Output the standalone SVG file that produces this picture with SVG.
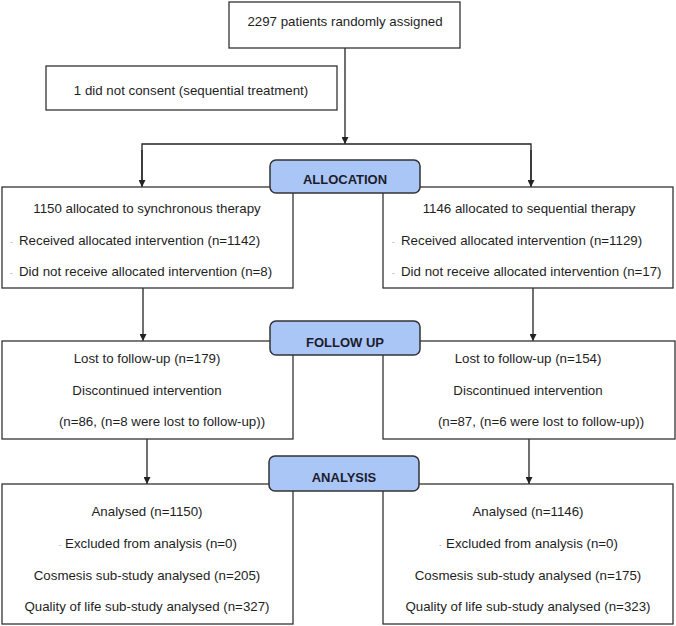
<svg xmlns="http://www.w3.org/2000/svg" width="676" height="626" viewBox="0 0 676 626">
<defs>
<style>
.box{fill:#fff;stroke:#333;stroke-width:1.3}
.phase{fill:#a9c6f7;stroke:#333;stroke-width:1.5}
.t{font-family:"Liberation Sans",Arial,sans-serif;font-size:13.3px;fill:#1e1e1e}
.c{text-anchor:middle}
.p{font-family:"Liberation Sans",Arial,sans-serif;font-size:13px;font-weight:bold;fill:#1c1c2c;text-anchor:middle}
.d{font-family:"Liberation Sans",Arial,sans-serif;font-size:8px;fill:#999}
.ln{fill:none;stroke:#222;stroke-width:1.3}
</style>
<marker id="ah" viewBox="0 0 10 10" refX="10" refY="5" markerWidth="7" markerHeight="7" orient="auto" markerUnits="userSpaceOnUse">
<path d="M0,0 L10,5 L0,10 z" fill="#222"/>
</marker>
</defs>
<rect width="676" height="626" fill="#fff"/>

<g id="connectors">
<path class="ln" d="M345,48 V144" marker-end="url(#ah)"/>
<path class="ln" d="M142,186 V144 H531 V186" />
<path class="ln" d="M142,150 V187" marker-end="url(#ah)"/>
<path class="ln" d="M531,150 V187" marker-end="url(#ah)"/>
<path class="ln" d="M143,288 V341" marker-end="url(#ah)"/>
<path class="ln" d="M533,288 V341" marker-end="url(#ah)"/>
<path class="ln" d="M147,439 V484" marker-end="url(#ah)"/>
<path class="ln" d="M529,439 V484" marker-end="url(#ah)"/>
</g>

<g id="randomised">
<rect class="box" x="229" y="2" width="231" height="46"/>
<text class="t c" x="345" y="26">2297 patients randomly assigned</text>
</g>

<g id="excluded">
<rect class="box" x="46" y="66" width="291" height="44"/>
<text class="t c" x="191" y="95">1 did not consent (sequential treatment)</text>
</g>

<g id="alloc-left">
<rect class="box" x="2" y="187" width="291" height="101"/>
<text class="t c" x="147" y="213">1150 allocated to synchronous therapy</text>
<text class="d" x="10" y="244">-</text>
<text class="t" x="19" y="245">Received allocated intervention (n=1142)</text>
<text class="d" x="10" y="275">-</text>
<text class="t" x="19" y="276">Did not receive allocated intervention (n=8)</text>
</g>

<g id="alloc-right">
<rect class="box" x="383" y="187" width="290" height="101"/>
<text class="t c" x="529" y="213">1146 allocated to sequential therapy</text>
<text class="d" x="392" y="244">-</text>
<text class="t" x="401" y="245">Received allocated intervention (n=1129)</text>
<text class="d" x="392" y="275">-</text>
<text class="t" x="401" y="276">Did not receive allocated intervention (n=17)</text>
</g>

<g id="follow-left">
<rect class="box" x="2" y="341" width="291" height="98"/>
<text class="t c" x="147" y="363">Lost to follow-up (n=179)</text>
<text class="t c" x="147" y="395">Discontinued intervention</text>
<text class="t c" x="162" y="426">(n=86, (n=8 were lost to follow-up))</text>
</g>

<g id="follow-right">
<rect class="box" x="383" y="341" width="292" height="98"/>
<text class="t c" x="528" y="363">Lost to follow-up (n=154)</text>
<text class="t c" x="528" y="395">Discontinued intervention</text>
<text class="t c" x="541" y="426">(n=87, (n=6 were lost to follow-up))</text>
</g>

<g id="analysis-left">
<rect class="box" x="2" y="484" width="291" height="140"/>
<text class="t c" x="147" y="516">Analysed (n=1150)</text>
<text class="d" x="59" y="547">-</text>
<text class="t c" x="151" y="548">Excluded from analysis (n=0)</text>
<text class="t c" x="147" y="580">Cosmesis sub-study analysed (n=205)</text>
<text class="t c" x="147" y="611">Quality of life sub-study analysed (n=327)</text>
</g>

<g id="analysis-right">
<rect class="box" x="383" y="484" width="290" height="140"/>
<text class="t c" x="528" y="516">Analysed (n=1146)</text>
<text class="d" x="439" y="547">-</text>
<text class="t c" x="532" y="548">Excluded from analysis (n=0)</text>
<text class="t c" x="528" y="580">Cosmesis sub-study analysed (n=175)</text>
<text class="t c" x="528" y="611">Quality of life sub-study analysed (n=323)</text>
</g>

<g id="phase-allocation">
<rect class="phase" x="270" y="160" width="150" height="33" rx="6"/>
<text class="p" x="345" y="183.5">ALLOCATION</text>
</g>
<g id="phase-followup">
<rect class="phase" x="270" y="321" width="150" height="34" rx="6"/>
<text class="p" x="345" y="346.5">FOLLOW UP</text>
</g>
<g id="phase-analysis">
<rect class="phase" x="269" y="456" width="150" height="35" rx="6"/>
<text class="p" x="344" y="482">ANALYSIS</text>
</g>
</svg>
